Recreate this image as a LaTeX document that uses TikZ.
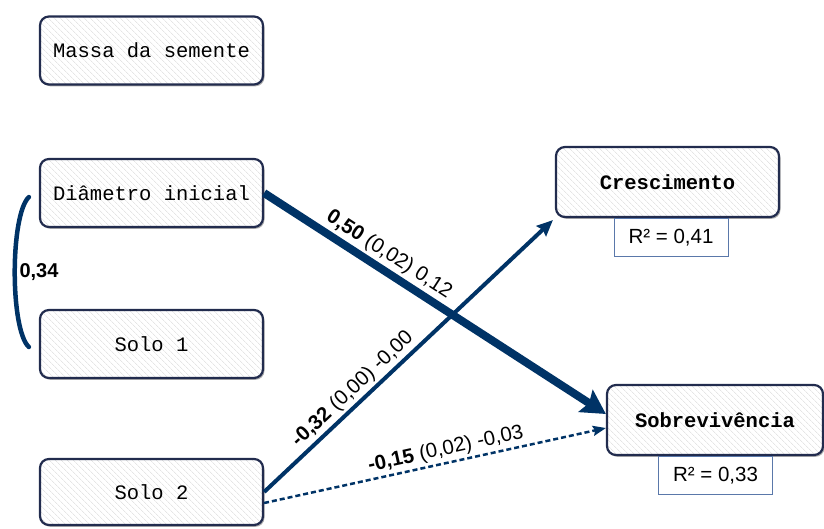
\documentclass[tikz,border=0pt]{standalone}
\usepackage{fontspec}
\setmainfont{Liberation Sans}
\setmonofont{Liberation Mono}
\usetikzlibrary{arrows.meta,patterns.meta,shadows,calc}

\definecolor{navy}{RGB}{0,51,102}
\definecolor{boxline}{RGB}{34,44,78}
\definecolor{rline}{RGB}{90,120,170}

\tikzset{
  varbox/.style={
    draw=boxline, line width=2.2pt, rounded corners=9pt,
    minimum width=223pt, minimum height=68pt,
    drop shadow={shadow xshift=1.5pt, shadow yshift=-1.8pt, opacity=0.45, fill=black!70},
    preaction={fill=white},
    pattern={Lines[angle=-45, distance=4pt, line width=0.7pt]}, pattern color=gray!20,
    font=\fontsize{20.5}{24}\selectfont\ttfamily, text=black
  },
  rbox/.style={draw=rline, line width=0.8pt, fill=white,
    minimum width=114pt, minimum height=38pt,
    font=\fontsize{20.5}{24}\selectfont},
  coef/.style={font=\fontsize{20.5}{24}\selectfont, sloped, above, inner sep=2.5pt},
  path/.style={draw=navy}
}

\begin{document}
\begin{tikzpicture}[x=1pt, y=-1pt]
\useasboundingbox (0,0) rectangle (824,528);

% exogenous variables
\node[varbox] (massa) at (151.5,50.5) {Massa da semente};
\node[varbox] (dia)   at (151.5,193)  {Diâmetro inicial};
\node[varbox] (solo1) at (151.5,344)  {Solo 1};
\node[varbox, minimum height=66pt] (solo2) at (151.5,492) {Solo 2};

% response variables
\node[varbox, minimum height=70pt] (cres) at (667.5,182) {\textbf{Crescimento}};
\node[varbox, minimum width=216pt, minimum height=70pt] (sob) at (715,420) {\textbf{Sobrevivência}};

% explained variance
\node[rbox, anchor=north] (r1) at ($(cres.south)+(3.5,0)$) {R² = 0,41};
\node[rbox, anchor=north] (r2) at ($(sob.south)+(0.5,0)$) {R² = 0,33};

% correlation between diameter and soil 1
\coordinate (ca) at ($(dia.west)+(-10,4)$);
\coordinate (cb) at ($(solo1.west)+(-10,3)$);
\draw[navy, line width=4.5pt, line cap=round] (ca) .. controls (10,215) and (10,330) .. (cb);
\node[font=\fontsize{20}{24}\selectfont\bfseries, anchor=west] (r34) at (16,272) {0,34};

% path coefficients
\draw[path, line width=8pt, -{Stealth[length=24pt, width=26pt, inset=4pt]}]
  (dia.east) -- ($(sob.west)+(0,-6)$)
  node[coef, pos=0.34] {\textbf{0,50} (0,02) 0,12};

\draw[path, line width=4pt, -{Stealth[length=16pt, width=14pt, inset=2pt]}]
  (solo2.east) -- ($(cres.south west)+(-2,2)$)
  node[coef, pos=0.34] {\textbf{-0,32} (0,00) -0,00};

\draw[path, line width=2.5pt, dash pattern=on 5pt off 3pt, -{Stealth[length=13pt, width=10pt, inset=2pt]}]
  ($(solo2.east)+(0,11)$) -- ($(sob.west)+(0,8)$)
  node[coef, pos=0.54] {\textbf{-0,15} (0,02) -0,03};
\end{tikzpicture}
\end{document}
